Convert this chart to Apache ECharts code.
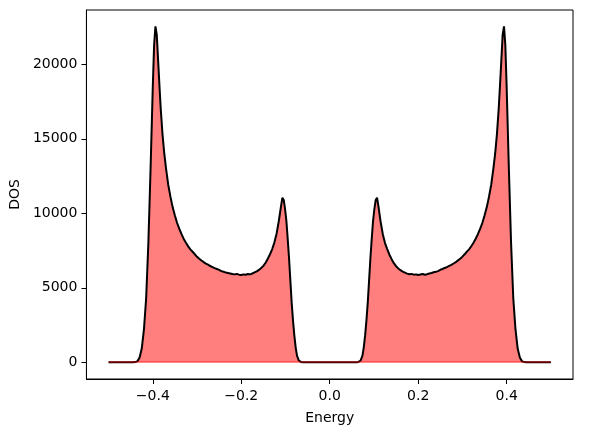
<!DOCTYPE html>
<html><head><meta charset="utf-8">
<script src="https://cdn.jsdelivr.net/npm/echarts@6/dist/echarts.min.js"></script>
<style>html,body{margin:0;padding:0;background:#fff}#c{width:589px;height:432px}</style>
</head><body><div id="c"></div>
<script>
// Energy grid (x) and density of states (y)
const energy = [
  -0.50, -0.49, -0.48, -0.47, -0.46, -0.45,
  -0.445, -0.44, -0.435, -0.43, -0.425, -0.42, -0.415, -0.41, -0.405, -0.40,
  -0.397, -0.394, -0.391, -0.388, -0.385, -0.382, -0.378, -0.374,
  -0.37, -0.365, -0.36, -0.355, -0.35, -0.345, -0.34, -0.335, -0.33, -0.325,
  -0.32, -0.315, -0.31, -0.305, -0.30, -0.295, -0.29, -0.285, -0.28, -0.275,
  -0.27, -0.265, -0.26, -0.255, -0.25, -0.245, -0.24, -0.235, -0.23, -0.225,
  -0.22, -0.215, -0.21, -0.205, -0.20, -0.195, -0.19, -0.185, -0.18, -0.175,
  -0.17, -0.165, -0.16, -0.155, -0.15, -0.145, -0.14, -0.135, -0.13, -0.125,
  -0.12, -0.115, -0.11,
  -0.107, -0.104, -0.101, -0.098, -0.095, -0.092, -0.089, -0.086, -0.083, -0.08, -0.077, -0.074,
  -0.07, -0.065, -0.06,
  -0.05, -0.04, -0.03, -0.02, -0.01, 0.0,
  0.01, 0.02, 0.03, 0.04, 0.05, 0.06,
  0.065, 0.07,
  0.074, 0.077, 0.08, 0.083, 0.086, 0.089, 0.092, 0.095, 0.098, 0.101, 0.104, 0.107,
  0.11,
  0.115, 0.12, 0.125, 0.13, 0.135, 0.14, 0.145, 0.15, 0.155, 0.16,
  0.165, 0.17, 0.175, 0.18, 0.185, 0.19, 0.195, 0.20, 0.205, 0.21,
  0.215, 0.22, 0.225, 0.23, 0.235, 0.24, 0.245, 0.25, 0.255, 0.26,
  0.265, 0.27, 0.275, 0.28, 0.285, 0.29, 0.295, 0.30, 0.305, 0.31,
  0.315, 0.32, 0.325, 0.33, 0.335, 0.34, 0.345, 0.35, 0.355, 0.36,
  0.365, 0.37,
  0.374, 0.378, 0.382, 0.385, 0.388, 0.391, 0.394, 0.397,
  0.40, 0.405, 0.41, 0.415, 0.42, 0.425, 0.43, 0.435, 0.44, 0.445,
  0.45, 0.46, 0.47, 0.48, 0.49, 0.50
];
const dos = [
  0, 0, 0, 0, 0, 0,
  0, 10, 60, 300, 900, 2200, 4300, 8000, 13000, 18500,
  21300, 22550, 22000, 20300, 18600, 17000, 15300, 14000,
  13000, 11900, 11100, 10400, 9850, 9350, 8950, 8600, 8280, 8020,
  7780, 7580, 7420, 7250, 7080, 6950, 6830, 6720, 6620, 6550,
  6460, 6390, 6320, 6260, 6200, 6120, 6080, 6020, 5990, 5960,
  5920, 5900, 5930, 5880, 5860, 5900, 5870, 5920, 5900, 5960,
  6030, 6100, 6200, 6330, 6470, 6680, 6950, 7250, 7600, 8050,
  8650, 9500, 10500,
  11050, 10900, 10300, 9500, 8300, 7000, 5500, 4000, 2800, 1800, 1000, 450,
  120, 20, 0,
  0, 0, 0, 0, 0, 0,
  0, 0, 0, 0, 0, 0,
  20, 120,
  450, 1000, 1800, 2800, 4000, 5500, 7000, 8300, 9500, 10300, 10900, 11050,
  10500,
  9450, 8600, 8000, 7600, 7220, 6920, 6650, 6450, 6300, 6180,
  6080, 6020, 5950, 5910, 5930, 5880, 5900, 5860, 5890, 5920,
  5880, 5910, 5960, 5990, 6040, 6070, 6120, 6210, 6260, 6330,
  6390, 6470, 6540, 6630, 6720, 6840, 6950, 7090, 7250, 7430,
  7580, 7790, 8020, 8290, 8600, 8950, 9350, 9850, 10400, 11100,
  11900, 13000,
  14000, 15300, 17000, 18600, 20300, 22000, 22550, 21300,
  18500, 13000, 8000, 4300, 2200, 900, 300, 60, 10, 0,
  0, 0, 0, 0, 0, 0
];
const xTicks = [-0.4, -0.2, 0.0, 0.2, 0.4];
const yTicks = [0, 5000, 10000, 15000, 20000];
const xLabel = 'Energy';
const yLabel = 'DOS';

if (energy.length !== dos.length) console.error('length mismatch', energy.length, dos.length);
const points = energy.map((e, i) => [e, dos[i]]);

const font = 'DejaVu Sans';
const fmtX = v => (v < 0 ? '\u2212' : '') + Math.abs(v).toFixed(1);

const chart = echarts.init(document.getElementById('c'), null, {renderer: 'canvas'});
chart.setOption({
  animation: false,
  backgroundColor: '#fff',
  grid: {left: 83, right: 16, top: 10, bottom: 53, show: true, borderColor: '#000', borderWidth: 1, backgroundColor: 'transparent'},
  xAxis: {
    type: 'value', min: -0.55, max: 0.55,
    name: xLabel, nameLocation: 'middle', nameGap: 32,
    nameTextStyle: {fontFamily: font, fontSize: 14, color: '#000'},
    axisLine: {show: true, onZero: false, lineStyle: {color: '#000', width: 1}},
    axisTick: {show: true, length: 5, customValues: xTicks, lineStyle: {color: '#000', width: 1}},
    axisLabel: {customValues: xTicks, formatter: fmtX, margin: 10, fontFamily: font, fontSize: 14, color: '#000'},
    splitLine: {show: false}
  },
  yAxis: {
    type: 'value', min: -1125, max: 23650,
    name: yLabel, nameLocation: 'middle', nameGap: 60,
    nameTextStyle: {fontFamily: font, fontSize: 14, color: '#000'},
    axisLine: {show: true, onZero: false, lineStyle: {color: '#000', width: 1}},
    axisTick: {show: true, length: 5, customValues: yTicks, lineStyle: {color: '#000', width: 1}},
    axisLabel: {customValues: yTicks, formatter: v => String(v), margin: 9, fontFamily: font, fontSize: 14, color: '#000'},
    splitLine: {show: false}
  },
  series: [
    {
      type: 'line', data: points, symbol: 'none', silent: true, z: 2,
      lineStyle: {width: 0, opacity: 0},
      areaStyle: {color: 'rgba(255,0,0,0.5)', opacity: 1},
      markLine: {
        silent: true, symbol: 'none', label: {show: false},
        lineStyle: {color: 'rgba(255,0,0,0.5)', width: 1.5, type: 'solid'},
        data: [[{coord: [energy[0], 0]}, {coord: [energy[energy.length - 1], 0]}]]
      }
    },
    {
      type: 'line', data: points, symbol: 'none', silent: true, z: 3,
      lineStyle: {color: '#000', width: 2}
    }
  ]
});
</script>
</body></html>
